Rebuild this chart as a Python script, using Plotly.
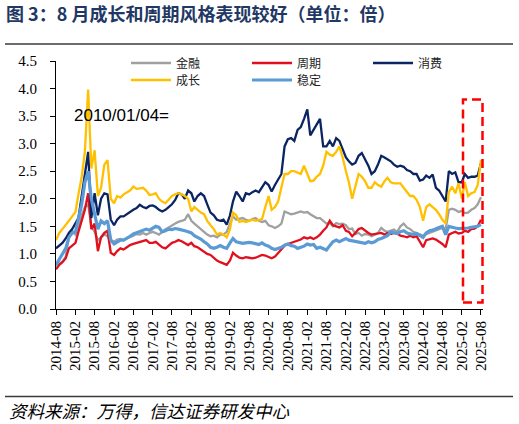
import pandas as pd
import plotly.graph_objects as go

# monthly readings, 2014-08 .. 2025-08 (base 2010/01/04 = 1)
dates = pd.date_range("2014-08-01", periods=133, freq="MS")

finance = [
    0.78, 0.82, 0.86, 0.95, 1.30, 1.42, 1.35, 1.45, 1.70, 1.85, 1.90, 1.50, 1.40, 1.25, 1.30, 1.35,
    1.32, 1.25, 1.22, 1.26, 1.27, 1.25, 1.28, 1.30, 1.33, 1.36, 1.35, 1.38, 1.35, 1.38, 1.40, 1.38,
    1.35, 1.40, 1.45, 1.48, 1.52, 1.55, 1.58, 1.60, 1.62, 1.72, 1.60, 1.55, 1.50, 1.45, 1.40, 1.35,
    1.32, 1.33, 1.30, 1.35, 1.35, 1.40, 1.55, 1.68, 1.62, 1.63, 1.65, 1.62, 1.60, 1.63, 1.65, 1.60,
    1.58, 1.60, 1.52, 1.50, 1.47, 1.50, 1.55, 1.77, 1.75, 1.72, 1.73, 1.75, 1.77, 1.75, 1.76, 1.72,
    1.68, 1.65, 1.65, 1.60, 1.55, 1.56, 1.50, 1.56, 1.54, 1.55, 1.52, 1.45, 1.46, 1.36, 1.38, 1.33,
    1.36, 1.35, 1.32, 1.35, 1.38, 1.47, 1.42, 1.40, 1.42, 1.44, 1.40, 1.50, 1.55, 1.48, 1.45, 1.40,
    1.38, 1.35, 1.33, 1.36, 1.38, 1.40, 1.42, 1.45, 1.47, 1.45, 1.80, 1.82, 1.80, 1.76, 1.78, 1.74,
    1.75, 1.80, 1.83, 1.90, 2.03,
]

cyclical = [
    0.72, 0.80, 0.85, 0.92, 1.10, 1.15, 1.20, 1.40, 1.62, 1.80, 2.10, 1.45, 1.55, 1.05, 1.30, 1.38,
    1.42, 1.02, 0.98, 1.05, 1.10, 1.08, 1.12, 1.16, 1.18, 1.20, 1.22, 1.24, 1.25, 1.20, 1.20, 1.22,
    1.16, 1.12, 1.10, 1.15, 1.20, 1.22, 1.25, 1.23, 1.20, 1.16, 1.20, 1.14, 1.12, 1.08, 1.04, 1.00,
    0.98, 0.93, 0.88, 0.85, 0.82, 0.80, 0.88, 1.02, 0.97, 0.93, 0.92, 0.94, 0.93, 0.92, 0.93, 0.95,
    0.98, 0.97, 0.95, 0.92, 0.95, 1.02, 1.08, 1.15, 1.18, 1.20, 1.22, 1.24, 1.26, 1.30, 1.28, 1.30,
    1.27, 1.30, 1.35, 1.42, 1.48, 1.60, 1.52, 1.50, 1.48, 1.52, 1.42, 1.40, 1.32, 1.38, 1.45, 1.47,
    1.42, 1.38, 1.35, 1.36, 1.38, 1.38, 1.35, 1.38, 1.36, 1.38, 1.37, 1.33, 1.32, 1.30, 1.33, 1.30,
    1.32, 1.22, 1.12, 1.25, 1.27, 1.28, 1.26, 1.22, 1.18, 1.12, 1.35, 1.38, 1.40, 1.37, 1.38, 1.42,
    1.40, 1.45, 1.46, 1.50, 1.62,
]

consumer = [
    1.10, 1.15, 1.20, 1.28, 1.38, 1.45, 1.55, 1.65, 2.05, 2.45, 2.85, 1.65, 2.10, 1.70, 2.00, 2.10,
    2.08, 1.62, 1.52, 1.62, 1.68, 1.68, 1.72, 1.77, 1.80, 1.83, 1.89, 1.85, 1.83, 1.87, 1.88, 1.85,
    1.80, 1.77, 1.80, 1.85, 1.90, 1.98, 2.10, 2.08, 2.00, 2.15, 2.10, 1.95, 2.05, 2.10, 2.05, 1.90,
    1.75, 1.70, 1.62, 1.60, 1.62, 1.53, 1.70, 1.95, 2.13, 2.05, 1.95, 2.10, 2.08, 2.12, 2.15, 2.12,
    2.20, 2.30, 2.25, 2.13, 2.25, 2.35, 2.45, 2.95, 3.08, 3.10, 3.05, 3.25, 3.30, 3.45, 3.62, 3.15,
    3.25, 3.35, 3.45, 2.95, 2.95, 3.05, 2.95, 3.10, 3.05, 2.90, 2.75, 2.68, 2.62, 2.65, 2.78, 2.83,
    2.72, 2.60, 2.45, 2.50, 2.62, 2.78, 2.75, 2.72, 2.68, 2.62, 2.58, 2.60, 2.58, 2.52, 2.50, 2.45,
    2.45, 2.33, 2.35, 2.42, 2.38, 2.44, 2.20, 2.15, 2.05, 1.95, 2.50, 2.45, 2.48, 2.30, 2.30, 2.45,
    2.38, 2.40, 2.40, 2.42, 2.65,
]

growth = [
    1.25, 1.38, 1.45, 1.52, 1.60, 1.68, 1.76, 2.08, 2.40, 2.85, 3.98, 2.55, 2.88, 2.05, 2.20, 2.62,
    2.70, 2.00, 1.92, 2.05, 2.02, 2.08, 2.12, 2.15, 2.22, 2.18, 2.19, 2.20, 2.15, 2.07, 2.08, 2.10,
    2.00, 1.95, 1.92, 1.98, 2.05, 2.08, 2.10, 2.08, 2.05, 2.00, 1.77, 1.85, 1.80, 1.75, 1.72, 1.60,
    1.52, 1.45, 1.35, 1.38, 1.35, 1.30, 1.45, 1.75, 1.70, 1.58, 1.60, 1.58, 1.60, 1.62, 1.60, 1.62,
    1.63, 1.85, 2.05, 1.80, 1.85, 1.95, 2.20, 2.45, 2.45, 2.50, 2.50, 2.47, 2.45, 2.60, 2.45, 2.32,
    2.33, 2.40, 2.45, 2.60, 2.85, 2.80, 2.78, 2.85, 2.95, 2.75, 2.50, 2.30, 2.00, 2.25, 2.45, 2.40,
    2.32, 2.20, 2.20, 2.30, 2.25, 2.22, 2.32, 2.38, 2.30, 2.28, 2.28, 2.28, 2.20, 2.12, 2.05, 2.05,
    1.98, 1.85, 1.60, 1.85, 1.90, 1.85, 1.80, 1.72, 1.62, 1.55, 2.12, 2.22, 2.10, 2.28, 2.00, 2.30,
    2.05, 2.10, 2.12, 2.25, 2.70,
]

stable = [
    0.80, 0.90, 0.98, 1.10, 1.30, 1.38, 1.40, 1.62, 1.90, 2.30, 2.50, 2.00, 1.75, 1.45, 1.60, 1.55,
    1.60, 1.25, 1.18, 1.22, 1.25, 1.25, 1.28, 1.32, 1.36, 1.38, 1.40, 1.42, 1.45, 1.43, 1.47, 1.50,
    1.48, 1.40, 1.42, 1.45, 1.44, 1.46, 1.45, 1.44, 1.42, 1.40, 1.38, 1.33, 1.30, 1.27, 1.22, 1.18,
    1.12, 1.10, 1.12, 1.15, 1.12, 1.10, 1.20, 1.28, 1.22, 1.20, 1.19, 1.20, 1.21, 1.20, 1.18, 1.17,
    1.20, 1.16, 1.14, 1.10, 1.08, 1.10, 1.12, 1.16, 1.18, 1.15, 1.14, 1.10, 1.12, 1.14, 1.18, 1.16,
    1.17, 1.10, 1.12, 1.10, 1.07, 1.15, 1.22, 1.25, 1.22, 1.25, 1.28, 1.25, 1.24, 1.22, 1.22, 1.20,
    1.19, 1.22, 1.20, 1.22, 1.26, 1.28, 1.30, 1.33, 1.40, 1.38, 1.37, 1.40, 1.42, 1.38, 1.36, 1.35,
    1.37, 1.33, 1.30, 1.38, 1.42, 1.43, 1.46, 1.48, 1.50, 1.35, 1.50, 1.48, 1.47, 1.46, 1.46, 1.47,
    1.47, 1.48, 1.49, 1.50, 1.53,
]

series = [
    ("金融", finance, "#A0A0A0", 2.3, "legend"),
    ("周期", cyclical, "#E0101E", 2.3, "legend"),
    ("消费", consumer, "#0B2563", 2.3, "legend"),
    ("成长", growth, "#FFC000", 2.3, "legend2"),
    ("稳定", stable, "#5B9BD5", 3.2, "legend2"),
]

tick_dates = pd.date_range("2014-08-01", "2025-08-01", freq="6MS")

W, H = 519, 424
serif = "Liberation Serif, Times New Roman, DejaVu Serif, serif"


# zero margins: paper coords now cover the whole page, so pixel -> fraction is direct
def fx(x):
    return x / W


def fy(y):
    return 1 - y / H


fig = go.Figure()
for name, vals, color, width, leg in series:
    fig.add_trace(go.Scatter(
        x=dates, y=vals, name=name, mode="lines",
        line=dict(color=color, width=width),
        legend=leg,
    ))

legend_font = dict(family="Noto Sans CJK SC", size=12, color="#222222")
leg_common = dict(
    orientation="h", xref="container", yref="container",
    xanchor="left", yanchor="middle", font=legend_font,
    entrywidth=66, entrywidthmode="pixels", itemwidth=40,
    bgcolor="rgba(0,0,0,0)", borderwidth=0,
)

fig.update_layout(
    width=W, height=H,
    margin=dict(l=0, r=0, t=0, b=0, autoexpand=False),
    plot_bgcolor="white", paper_bgcolor="white",
    title=dict(
        text="<b>图 3：8 月成长和周期风格表现较好（单位：倍）</b>",
        x=fx(6), xanchor="left", xref="container",
        y=fy(15), yanchor="middle", yref="container",
        font=dict(family="Noto Sans CJK SC", size=18, color="#1F3864"),
    ),
    legend=dict(x=fx(126), y=fy(63), **leg_common),
    legend2=dict(x=fx(126), y=fy(80), **leg_common),
    xaxis=dict(
        domain=[fx(56), fx(483)],
        range=["2014-08-01", "2025-08-20"],
        tickvals=tick_dates, tickformat="%Y-%m", tickangle=-90,
        ticks="outside", ticklen=5, tickcolor="black",
        showline=True, linecolor="black", linewidth=1,
        showgrid=False, zeroline=False,
        tickfont=dict(family=serif, size=15, color="black"),
    ),
    yaxis=dict(
        domain=[fy(309), fy(61)],
        range=[0, 4.5], dtick=0.5, tickformat=".1f",
        ticks="outside", ticklen=5, tickcolor="black",
        showline=True, linecolor="black", linewidth=1,
        showgrid=False, zeroline=False, ticklabelstandoff=10,
        tickfont=dict(family=serif, size=15, color="black"),
    ),
)

# header / footer rules
for y in (44, 396.5):
    fig.add_shape(type="line", xref="paper", yref="paper",
                  x0=fx(5), x1=fx(513), y0=fy(y), y1=fy(y),
                  line=dict(color="#3a3a3a", width=1.3))

# highlighted window
fig.add_shape(type="rect", xref="paper", yref="paper",
              x0=fx(463), x1=fx(482.5), y0=fy(302.5), y1=fy(99.5),
              line=dict(color="#FF0000", width=2.5, dash="9px,5px"))

fig.add_annotation(text="2010/01/04=", xref="paper", yref="paper",
                   x=fx(72), y=fy(115), xanchor="left", yanchor="middle",
                   showarrow=False,
                   font=dict(family="Liberation Sans", size=17, color="black"))

fig.add_annotation(text="<i>资料来源：万得，信达证券研发中心</i>", xref="paper", yref="paper",
                   x=fx(7), y=fy(410), xanchor="left", yanchor="middle",
                   showarrow=False,
                   font=dict(family="Noto Sans CJK SC", size=17.5, color="black"))

# page body has a default margin; drop it so the figure sits at the window corner
fig.write_html("out.html", config={"displayModeBar": False},
               post_script="document.body.style.margin='0';")
